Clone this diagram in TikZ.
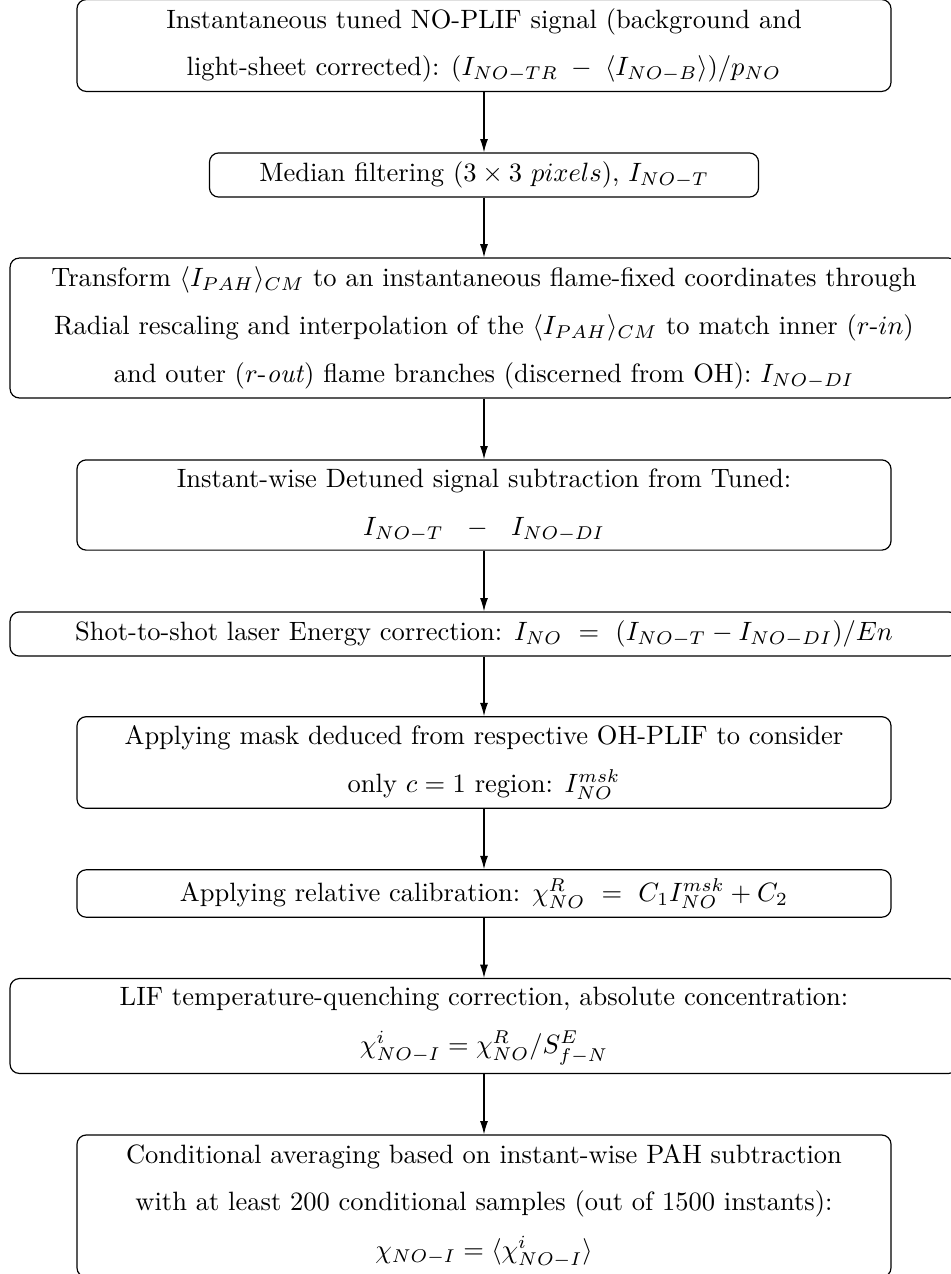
\documentclass[tikz,border=0pt]{standalone}
\usepackage{amsmath}
\usetikzlibrary{arrows.meta}
\begin{document}
\begin{tikzpicture}[x=0.37736pt,y=-0.37736pt,
  stepbox/.style={draw, rounded corners=3.5pt, align=center, inner sep=3.33pt,
    font={\fontsize{10}{18}\selectfont}, line width=0.45pt},
  flow/.style={-{Latex[length=5pt,width=3pt]}, line width=0.45pt}]
\useasboundingbox (0,0) rectangle (950,1274);
\node[stepbox, minimum width=307.2pt, minimum height=34.3pt] (b1) at (484,45.5)
  {Instantaneous tuned NO-PLIF signal (background and\\
   light-sheet corrected): $(I_{NO-TR}\;-\;\langle I_{NO-B}\rangle)/p_{NO}$};
\node[stepbox, minimum width=207.2pt, minimum height=16.6pt] (b2) at (484,175)
  {Median filtering ($3\times 3$ $pixels$), $I_{NO-T}$};
\node[stepbox, minimum width=357.7pt, minimum height=52.8pt] (b3) at (484,328)
  {Transform $\langle I_{PAH}\rangle_{CM}$ to an instantaneous flame-fixed coordinates through\\
   Radial rescaling and interpolation of the $\langle I_{PAH}\rangle_{CM}$ to match inner ($r$-$in$)\\
   and outer ($r$-\textit{out}) flame branches (discerned from OH): $I_{NO-DI}$};
\node[stepbox, minimum width=307.2pt, minimum height=34.0pt] (b4) at (484,505)
  {Instant-wise Detuned signal subtraction from Tuned:\\
   $I_{NO-T}\ \ -\ \ I_{NO-DI}$};
\node[stepbox, minimum width=357.7pt, minimum height=16.6pt] (b5) at (484,634)
  {Shot-to-shot laser Energy correction: $I_{NO}\ =\ (I_{NO-T}-I_{NO-DI})/En$};
\node[stepbox, minimum width=307.2pt, minimum height=34.3pt] (b6) at (484,762.5)
  {Applying mask deduced from respective OH-PLIF to consider\\
   only $c=1$ region: $I_{NO}^{msk}$};
\node[stepbox, minimum width=307.2pt, minimum height=17.7pt] (b7) at (484,893.5)
  {Applying relative calibration: $\chi^R_{NO}\ =\ C_1 I^{msk}_{NO}+C_2$};
\node[stepbox, minimum width=357.7pt, minimum height=35.5pt] (b8) at (484,1026)
  {LIF temperature-quenching correction, absolute concentration:\\
   $\chi^i_{NO-I}=\chi^R_{NO}/S^E_{f-N}$};
\node[stepbox, minimum width=307.2pt, minimum height=53.6pt] (b9) at (484,1206)
  {Conditional averaging based on instant-wise PAH subtraction\\
   with at least 200 conditional samples (out of 1500 instants):\\
   $\chi_{NO-I}=\langle\chi^i_{NO-I}\rangle$};
\draw[flow] (b1) -- (b2);
\draw[flow] (b2) -- (b3);
\draw[flow] (b3) -- (b4);
\draw[flow] (b4) -- (b5);
\draw[flow] (b5) -- (b6);
\draw[flow] (b6) -- (b7);
\draw[flow] (b7) -- (b8);
\draw[flow] (b8) -- (b9);
\end{tikzpicture}
\end{document}
